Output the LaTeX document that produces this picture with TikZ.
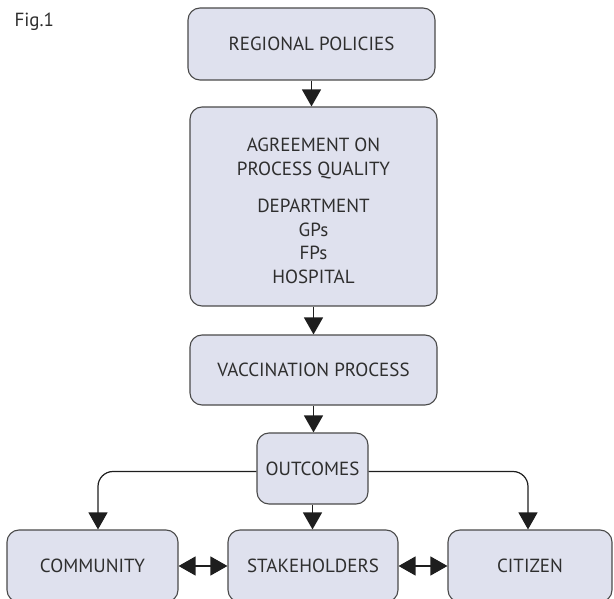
\documentclass[tikz,border=0pt]{standalone}
\usepackage{fontspec}
\setmainfont{PT Sans}
\usetikzlibrary{arrows.meta,calc}
\definecolor{boxfill}{HTML}{DFE1EE}
\definecolor{boxdraw}{HTML}{4A4A4A}
\definecolor{txt}{HTML}{2E2E2E}
\definecolor{arrcol}{HTML}{1E1E1E}
\tikzset{
  box/.style={draw=boxdraw, fill=boxfill, rounded corners=12pt, line width=1.1pt,
    text=txt, font=\fontsize{19}{23.5}\selectfont, inner sep=0pt, align=center},
  boxtext/.style={text=txt, font=\fontsize{19}{23.5}\selectfont, inner sep=0pt, align=center},
  arr/.style={draw=arrcol, line width=1.2pt, -{Triangle[length=17pt,width=19pt]}},
  darr/.style={draw=arrcol, line width=1.2pt, {Triangle[length=17pt,width=19pt]}-{Triangle[length=17pt,width=19pt]}}
}
\begin{document}
\begin{tikzpicture}[x=1pt,y=-1pt]
\useasboundingbox (0,0) rectangle (614,599);
\clip (0,0) rectangle (614,599);
\node[anchor=base west, text=txt, font=\fontsize{19}{23}\selectfont] (fig) at (11,27) {Fig.1};
\node[box, minimum width=247pt, minimum height=72pt] (reg) at (311.5,44) {REGIONAL POLICIES};
\node[box, minimum width=247pt, minimum height=199pt] (agr) at (313.5,206.5) {};
\node[boxtext] (agrt) at (313.5,211) {AGREEMENT ON\\PROCESS QUALITY\\[14pt]DEPARTMENT\\GPs\\FPs\\HOSPITAL};
\node[box, minimum width=247pt, minimum height=70pt] (vac) at (313.5,370) {VACCINATION PROCESS};
\node[box, minimum width=111pt, minimum height=71pt] (out) at (312.5,468.5) {OUTCOMES};
\node[box, minimum width=171pt, minimum height=72pt] (com) at (92.5,566) {COMMUNITY};
\node[box, minimum width=170pt, minimum height=72pt] (sta) at (313,566) {STAKEHOLDERS};
\node[box, minimum width=164pt, minimum height=72pt] (cit) at (530,566) {CITIZEN};
\draw[arr] (reg.south) -- (reg.south |- agr.north);
\draw[arr] (agr.south) -- (vac.north);
\draw[arr] (vac.south) -- (vac.south |- out.north);
\draw[arr] (out.south) -- (out.south |- sta.north);
\draw[arr, rounded corners=15pt] ($(out.west)+(0,3)$) -| ($(com.north)+(5.5,0)$);
\draw[arr, rounded corners=15pt] ($(out.east)+(0,3)$) -| ($(cit.north)+(-2,0)$);
\draw[darr] (com.east) -- (sta.west);
\draw[darr] (sta.east) -- (cit.west);
\end{tikzpicture}
\end{document}
